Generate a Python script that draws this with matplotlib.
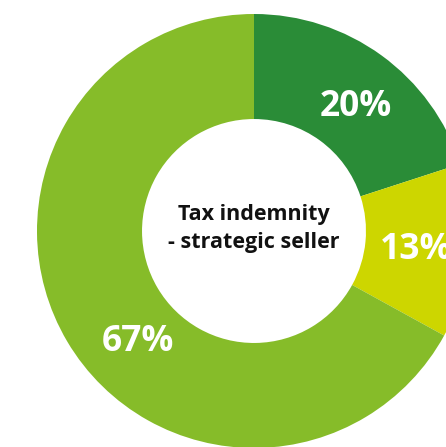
import numpy as np
import matplotlib
matplotlib.use("Agg")
import matplotlib.pyplot as plt

labels = ["Segment A", "Segment B", "Segment C"]
values = [20, 13, 67]
colors = ["#2a8c37", "#cdd600", "#86bc29"]
center_title = "Tax indemnity\n- strategic seller"

# label placement (angle in degrees, radius in pie units)
label_angles = [50.8, -6.7, -136.3]
label_radius = [0.74, 0.75, 0.74]

fig = plt.figure(figsize=(4.46, 4.47), dpi=100)
ax = fig.add_axes([0, 0, 1, 1])
wedges, _ = ax.pie(values, colors=colors, startangle=90, counterclock=False,
                   radius=1.0, wedgeprops=dict(width=1 - 0.516, edgecolor="none"))
for v, a, r in zip(values, label_angles, label_radius):
    t = np.deg2rad(a)
    ax.text(r * np.cos(t), r * np.sin(t), f"{v}%", ha="center", va="center",
            color="white", fontsize=25.5, fontweight="bold", family="Open Sans")
ax.text(0, 0.01, center_title, ha="center", va="center", fontsize=15.5,
        fontweight="bold", family="Open Sans", color="#111111", linespacing=1.42)
ax.set_aspect("auto")
ax.set_xlim(-254 / 217, 192 / 217)
ax.set_ylim(-216 / 217, 231 / 217)
ax.axis("off")
fig.savefig("out.png", dpi=100)
